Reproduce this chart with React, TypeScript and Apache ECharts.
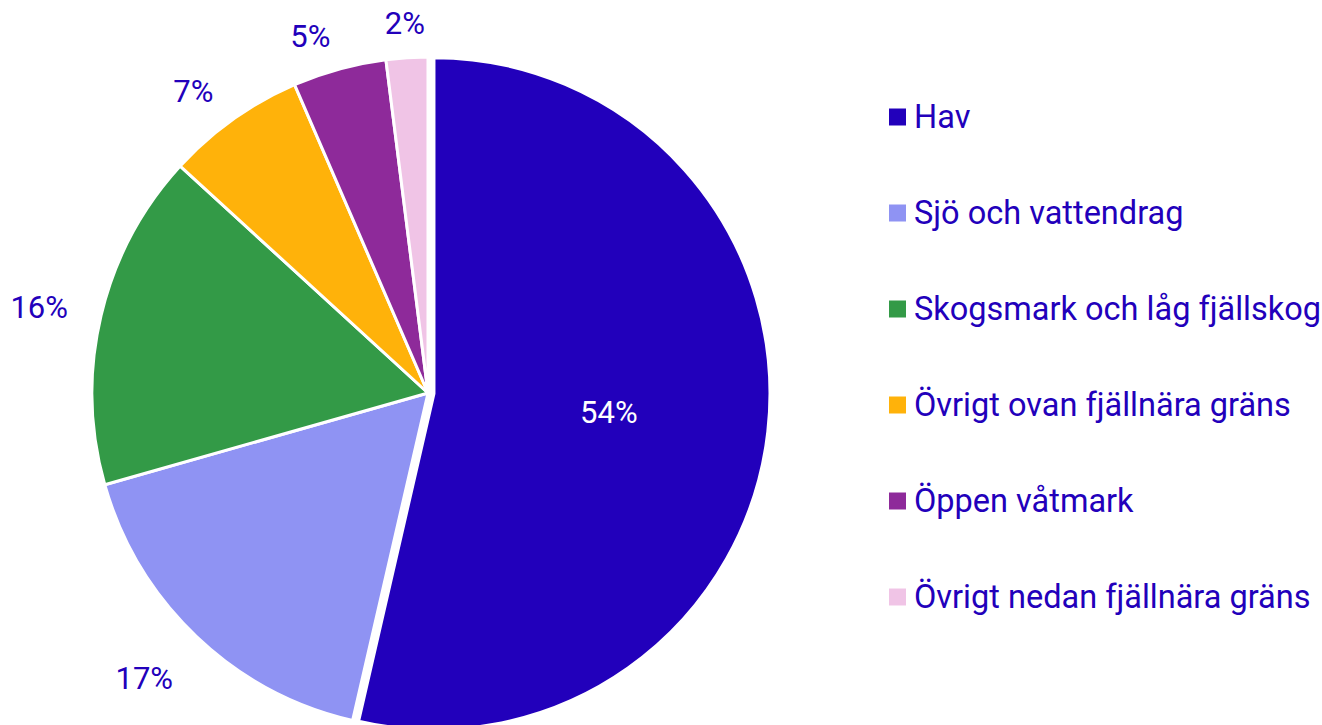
import React, { useEffect, useRef } from "react";
import * as echarts from "echarts";

const categories = [
  "Hav",
  "Sjö och vattendrag",
  "Skogsmark och låg fjällskog",
  "Övrigt ovan fjällnära gräns",
  "Öppen våtmark",
  "Övrigt nedan fjällnära gräns",
];
const values = [53.6, 17.0, 16.2, 6.7, 4.5, 2.0];
const colors = ["#2200bb", "#8f93f3", "#339a47", "#ffb20a", "#8e2a9a", "#f0c4e6"];
const textColor = "#2200bb";
const LABEL_GAP = 34;

export default function App() {
  const ref = useRef<HTMLDivElement>(null);
  useEffect(() => {
    if (!ref.current) return;
    const chart = echarts.init(ref.current, null, { renderer: "svg" });
    chart.setOption({
      animation: false,
      textStyle: { fontFamily: "Roboto" },
      legend: {
        orient: "vertical",
        left: 882,
        top: 94,
        itemWidth: 19,
        itemHeight: 19,
        itemGap: 60,
        icon: "rect",
        selectedMode: false,
        textStyle: { color: textColor, fontSize: 32.5, fontFamily: "Roboto", lineHeight: 36, padding: [0, 0, 0, 2] },
        data: categories,
      },
      series: [
        {
          type: "pie",
          center: [428, 393],
          radius: [0, 336],
          startAngle: 90,
          clockwise: true,
          avoidLabelOverlap: false,
          selectedMode: "single",
          selectedOffset: 6,
          itemStyle: { borderColor: "#ffffff", borderWidth: 3 },
          label: {
            show: true,
            position: "outside",
            formatter: (p: any) => Math.round(p.value) + "%",
            color: textColor,
            fontSize: 31,
            fontFamily: "Roboto",
            lineHeight: 34,
          },
          labelLine: { show: true, length: 20, length2: 0, lineStyle: { opacity: 0, width: 0 } },
          labelLayout: (p: any) => {
            const pts = p.labelLinePoints;
            if (!pts || !pts[0] || !pts[1]) return {};
            const a = pts[0];
            const b = pts[1];
            let dx = b[0] - a[0];
            let dy = b[1] - a[1];
            const len = Math.hypot(dx, dy) || 1;
            dx /= len;
            dy /= len;
            const x = a[0] + dx * LABEL_GAP;
            const y = a[1] + dy * LABEL_GAP;
            const align = Math.abs(dx) < 0.15 ? "center" : dx < 0 ? "right" : "left";
            const verticalAlign = dy > 0.3 ? "top" : "middle";
            return { x, y, align, verticalAlign };
          },
          data: categories.map((name, i) => ({
            name,
            value: values[i],
            selected: i === 0,
            itemStyle: { color: colors[i] },
            label: i === 0 ? { position: "inside", color: "#ffffff", padding: [0, 0, 12, 10] } : undefined,
            labelLine: i === 0 ? { show: false } : undefined,
          })),
        },
      ],
    });
    return () => chart.dispose();
  }, []);
  return (
    <div
      ref={ref}
      style={{ position: "fixed", left: 0, top: 0, width: 1322, height: 725, background: "#fff" }}
    />
  );
}
